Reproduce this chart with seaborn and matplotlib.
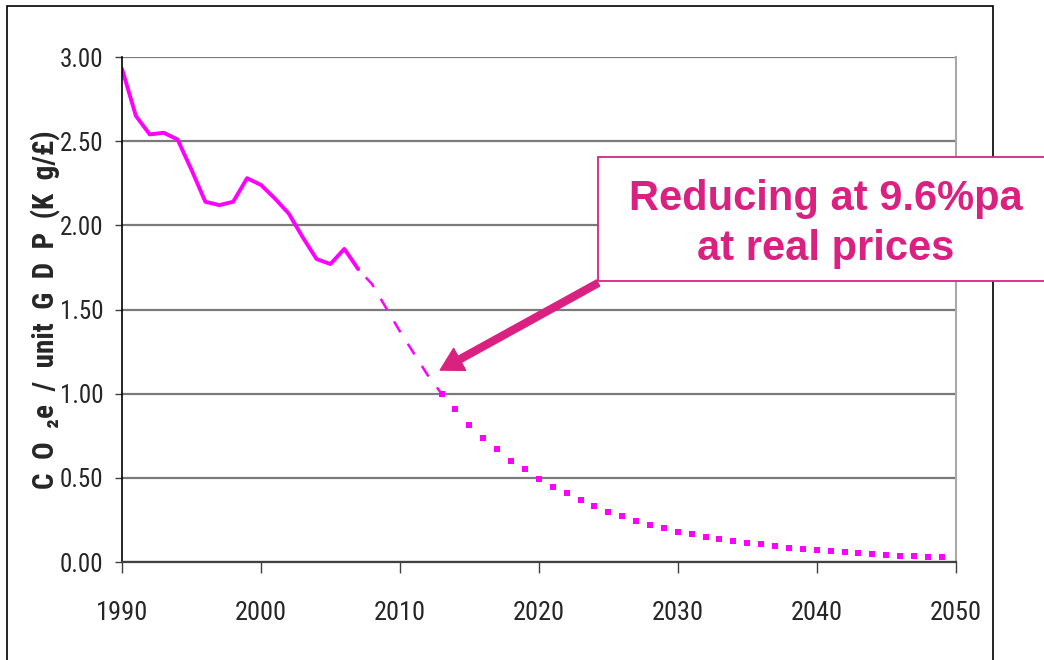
import numpy as np
import pandas as pd
import matplotlib
matplotlib.use('Agg')
import matplotlib.pyplot as plt
import seaborn as sns
from matplotlib.patches import Rectangle

# Historische Werte (CO2e pro BIP-Einheit)
hist_years = list(range(1990, 2008))
hist_vals = [2.93, 2.65, 2.54, 2.55, 2.51, 2.33, 2.14, 2.12, 2.14, 2.28,
             2.24, 2.16, 2.07, 1.93, 1.80, 1.77, 1.86, 1.74]

# Projektion, erster Teil (gestrichelt)
dash_years = list(range(2007, 2014))
dash_vals = [1.74, 1.65, 1.51, 1.37, 1.24, 1.11, 1.00]

# Projektion, zweiter Teil (gepunktet)
dot_years = list(range(2013, 2050))
dot_vals = [1.00, 0.907, 0.814, 0.735, 0.670, 0.602, 0.554, 0.495, 0.448, 0.408,
            0.368, 0.330, 0.300, 0.273, 0.245, 0.222, 0.200, 0.180, 0.164, 0.148,
            0.135, 0.123, 0.113, 0.105, 0.095, 0.085, 0.078, 0.070, 0.064, 0.058,
            0.053, 0.045, 0.041, 0.038, 0.035, 0.030, 0.027]

x_ticks = [1990, 2000, 2010, 2020, 2030, 2040, 2050]
y_ticks = [0.0, 0.5, 1.0, 1.5, 2.0, 2.5, 3.0]
y_tick_labels = ['0.00', '0.50', '1.00', '1.50', '2.00', '2.50', '3.00']

ylabel = 'C  O  \u2082e  /  unit  G  D  P  (K  g/\u00a3)'
note_lines = ['Reducing at 9.6%pa', 'at real prices']

magenta = '#FF00FF'
pink = '#DA2181'

sns.set_style('white')
plt.rcParams['font.family'] = ['Roboto Condensed', 'DejaVu Sans']

W, H = 1044, 660
fig = plt.figure(figsize=(W / 100, H / 100), dpi=100)
ax = fig.add_axes([122 / W, 1 - 562 / H, (955.7 - 122) / W, (562 - 57) / H])

hist = pd.DataFrame({'year': hist_years, 'value': hist_vals})
dash = pd.DataFrame({'year': dash_years, 'value': dash_vals})
dots = pd.DataFrame({'year': dot_years, 'value': dot_vals})

sns.lineplot(data=hist, x='year', y='value', ax=ax, color=magenta, lw=2.8)
sns.lineplot(data=dash, x='year', y='value', ax=ax, color=magenta, lw=1.8,
             linestyle=(6, (5, 5.5)))
sns.scatterplot(data=dots, x='year', y='value', ax=ax, color=magenta,
                marker='s', s=17, linewidth=0, zorder=3)

ax.set_xlim(1990, 2050)
ax.set_ylim(0, 3)
ax.set_xticks(x_ticks)
ax.set_xticklabels([str(x) for x in x_ticks])
ax.set_yticks(y_ticks)
ax.set_yticklabels(y_tick_labels)
ax.set_xlabel('')
ax.set_ylabel(ylabel, fontsize=21, fontweight='bold')
ax.yaxis.set_label_coords(-0.073, 0.5)

ax.yaxis.grid(True, color='#7a7a7a', lw=1.6)
ax.xaxis.grid(False)
ax.set_axisbelow(True)

ax.spines['top'].set_visible(False)
ax.spines['left'].set_color('black')
ax.spines['left'].set_linewidth(1.2)
ax.spines['bottom'].set_color('#404040')
ax.spines['bottom'].set_linewidth(1.6)
ax.spines['right'].set_color('#a8a8a8')
ax.spines['right'].set_linewidth(1.5)

ax.tick_params(axis='y', left=True, length=5, width=1, color='#404040',
               pad=8.5, labelsize=18)
ax.tick_params(axis='x', bottom=True, length=8, width=1, color='#404040',
               pad=20, labelsize=19)

# Pfeil zur Kurve
ax.annotate('', xy=(2012.9, 1.14), xytext=(2024.26, 1.657),
            arrowprops=dict(facecolor=pink, edgecolor=pink, width=5,
                            headwidth=18, headlength=16, shrink=0))

# Rahmen um die ganze Grafik
fig.add_artist(Rectangle((7 / W, -0.02), 986 / W, 1 - 6 / H + 0.02,
                         transform=fig.transFigure, fill=False,
                         edgecolor='black', lw=1.2, zorder=1))

# Kasten mit Hinweis
fig.add_artist(Rectangle((598 / W, 1 - 281 / H), (1070 - 598) / W, 124 / H,
                         transform=fig.transFigure, facecolor='white',
                         edgecolor=pink, lw=1.3, zorder=5))
for line, base in zip(note_lines, [210, 260]):
    fig.text(826 / W, 1 - base / H, line, ha='center', va='baseline',
             fontsize=30, fontweight='bold', color=pink,
             family=['Liberation Sans', 'DejaVu Sans'], zorder=6)

fig.savefig('out.png', dpi=100)
